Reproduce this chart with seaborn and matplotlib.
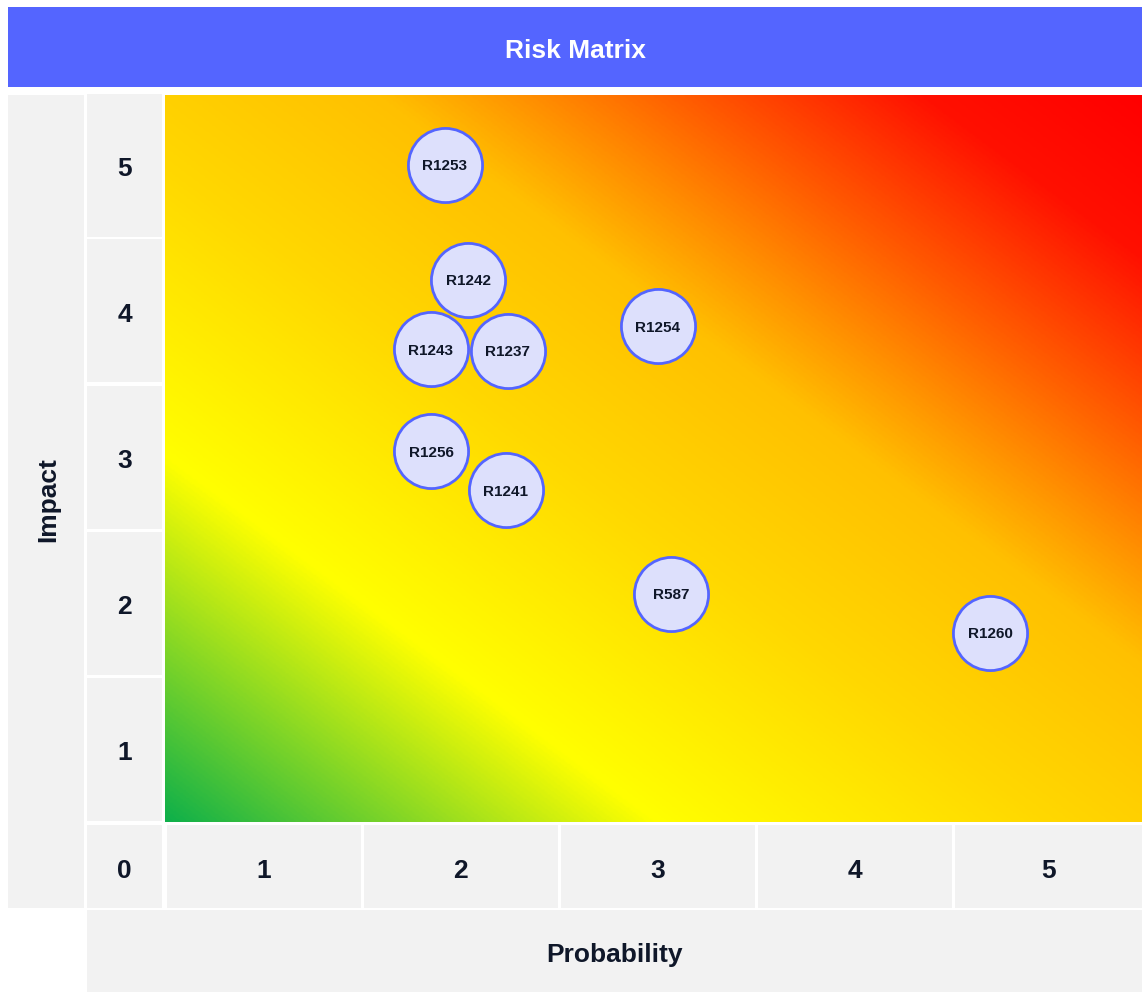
import numpy as np
import matplotlib
matplotlib.use("Agg")
import matplotlib.pyplot as plt
from matplotlib.patches import Rectangle
from matplotlib.colors import LinearSegmentedColormap
import seaborn as sns
import pandas as pd

# ========== DATOS ==========
riesgos = ['R1253', 'R1242', 'R1243', 'R1237', 'R1254', 'R1256', 'R1241', 'R587', 'R1260']
probabilidad = [1.92, 2.04, 1.85, 2.24, 3.00, 1.85, 2.23, 3.07, 4.69]
impacto = [5.02, 4.23, 3.75, 3.74, 3.91, 3.05, 2.78, 2.07, 1.80]
ticks_prob = [1, 2, 3, 4, 5]
ticks_impacto = [1, 2, 3, 4, 5]
titulo = 'Risk Matrix'

# ========== ESTILO ==========
sns.set_theme(style='white')
plt.rcParams['font.family'] = ['Liberation Sans', 'DejaVu Sans']

W, H = 1142, 992
AZUL = '#5465FF'
GRIS = '#F2F2F2'
TEXTO = '#0F1729'
FUENTE = 19

fig = plt.figure(figsize=(W / 100, H / 100), dpi=100)

# píxeles del área del gráfico
X0, X1, Y0, Y1 = 165, 1142, 95, 822
PX_UNIDAD_X = 197
PX_UNIDAD_Y = 146
xlim = (0.5, 0.5 + (X1 - X0) / PX_UNIDAD_X)
ylim = (0.5, 5.5)


def px_x(v):
    return X0 + (v - xlim[0]) * PX_UNIDAD_X


def px_y(v):
    return Y1 - (v - ylim[0]) * PX_UNIDAD_Y


def celda(x0, y0, x1, y1, fondo=GRIS, texto=None, **kw):
    fig.patches.append(Rectangle((x0 / W, 1 - y1 / H), (x1 - x0) / W, (y1 - y0) / H,
                                 transform=fig.transFigure, facecolor=fondo,
                                 edgecolor='none', zorder=0))
    if texto is not None:
        fig.text((x0 + x1) / 2 / W, 1 - ((y0 + y1) / 2 + 4) / H, texto,
                 ha='center', va='center', fontweight='bold', **kw)


# titulo
celda(8, 7, W, 87, fondo=AZUL, texto=titulo, fontsize=FUENTE, color='white')

# columna Impact y fila Probability
celda(8, 95, 84, 908)
fig.text(48 / W, 1 - 500 / H, 'Impact', rotation=90, ha='center', va='center',
         fontweight='bold', fontsize=FUENTE, color=TEXTO)
celda(87, 910, W, H, texto='Probability', fontsize=FUENTE, color=TEXTO)

# celdas de ticks
for v in ticks_impacto:
    celda(87, px_y(v + 0.5) + 1.5, 162, px_y(v - 0.5) - 1.5, texto=str(v),
          fontsize=FUENTE, color=TEXTO)
celda(87, 825, 162, 908, texto='0', fontsize=FUENTE, color=TEXTO)
for v in ticks_prob:
    celda(px_x(v - 0.5) + 1.5, 825, min(px_x(v + 0.5) - 1.5, W), 908, texto=str(v),
          fontsize=FUENTE, color=TEXTO)

# ========== GRÁFICO PRINCIPAL ==========
ax = fig.add_axes([X0 / W, 1 - Y1 / H, (X1 - X0) / W, (Y1 - Y0) / H])

cmap = LinearSegmentedColormap.from_list('riesgo', [
    (0.0, '#0FB04A'),
    (0.25, '#FFFF00'),
    (0.45, '#FFD800'),
    (0.61, '#FFC000'),
    (0.76, '#FF6000'),
    (0.89, '#FF1000'),
    (1.0, '#FF0000'),
])
xf, yf = np.meshgrid(np.linspace(0, 1, 600), np.linspace(0, 1, 450))
grad = (xf + yf) / 2
ax.imshow(grad, cmap=cmap, vmin=0, vmax=1, extent=[xlim[0], xlim[1], ylim[0], ylim[1]],
          origin='lower', aspect='auto', interpolation='bilinear', zorder=0)

df = pd.DataFrame({'riesgo': riesgos, 'probabilidad': probabilidad, 'impacto': impacto})
sns.scatterplot(data=df, x='probabilidad', y='impacto', s=2850, color='#DDE0FC',
                edgecolor=AZUL, linewidth=2, ax=ax, zorder=3, legend=False)
for _, fila in df.iterrows():
    ax.text(fila['probabilidad'], fila['impacto'], fila['riesgo'], ha='center',
            va='center_baseline', fontsize=11, fontweight='bold', color=TEXTO, zorder=4)

ax.set_xlim(*xlim)
ax.set_ylim(*ylim)
ax.set_xticks([])
ax.set_yticks([])
ax.set_xlabel('')
ax.set_ylabel('')
for s in ax.spines.values():
    s.set_visible(False)

plt.savefig('out.png', dpi=100)
